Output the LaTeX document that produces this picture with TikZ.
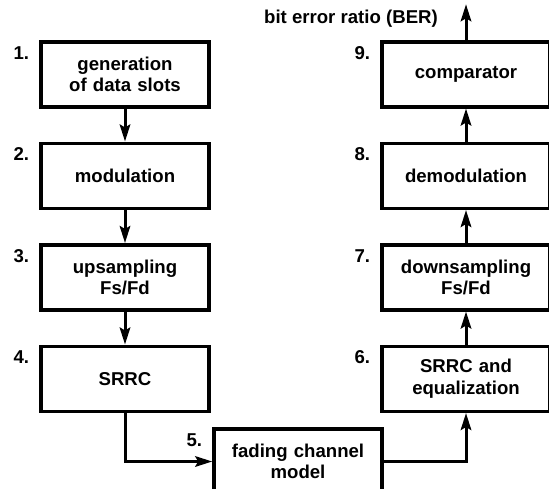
\documentclass[tikz,border=0pt]{standalone}
\usepackage{fontspec}
\setmainfont{Liberation Sans}
\usetikzlibrary{arrows.meta}

\begin{document}
\begin{tikzpicture}[node distance = 101.5pt, font=\bfseries\fontsize{18.6}{21.5}\selectfont]
	\tikzstyle{block} = [rectangle, draw, line width=3.5pt, fill=white, text width=160pt, align=center, minimum width=168pt, minimum height=65pt, inner sep=0pt]
	\tikzstyle{line} = [draw, line width=3pt, -{Stealth[length=17pt, width=10.5pt, inset=3pt]}]
	\tikzstyle{num} = [anchor=north east, inner sep=2pt, xshift=-8pt, yshift=-4pt]

	\useasboundingbox (0,0) rectangle (549pt,-488pt);

	% sender chain
	\node [block] (generation) at (125pt,-74.25pt) {generation\\of data slots};
	\node [block, below of=generation] (modulation) {modulation};
	\node [block, below of=modulation] (upsampling) {upsampling\\Fs/Fd};
	\node [block, below of=upsampling] (srrctx) {SRRC};

	% channel
	\node [block] (channel) at (298pt,-461.5pt) {fading channel\\model};

	% receiver chain
	\node [block] (comparator) at (466pt,-74.25pt) {comparator};
	\node [block, below of=comparator] (demodulation) {demodulation};
	\node [block, below of=demodulation] (downsampling) {downsampling\\Fs/Fd};
	\node [block, below of=downsampling] (srrcrx) {SRRC and\\equalization};

	\coordinate [above of=comparator, node distance=70pt] (out);
	\node [anchor=base east, inner sep=2pt, xshift=-26pt, yshift=-18.75pt] (ber) at (out) {bit error ratio (BER)};

	% step numbers
	\node [num] (n1) at (generation.north west) {1.};
	\node [num] (n2) at (modulation.north west) {2.};
	\node [num] (n3) at (upsampling.north west) {3.};
	\node [num] (n4) at (srrctx.north west) {4.};
	\node [num] (n5) at (channel.north west) {5.};
	\node [num] (n6) at (srrcrx.north west) {6.};
	\node [num] (n7) at (downsampling.north west) {7.};
	\node [num] (n8) at (demodulation.north west) {8.};
	\node [num] (n9) at (comparator.north west) {9.};

	\path [line] (generation) -- (modulation);
	\path [line] (modulation) -- (upsampling);
	\path [line] (upsampling) -- (srrctx);
	\path [line] (srrctx.south) |- (channel.west);
	\path [line] (channel.east) -| (srrcrx.south);
	\path [line] (srrcrx) -- (downsampling);
	\path [line] (downsampling) -- (demodulation);
	\path [line] (demodulation) -- (comparator);
	\path [line] (comparator) -- (out);

\end{tikzpicture}
\end{document}
